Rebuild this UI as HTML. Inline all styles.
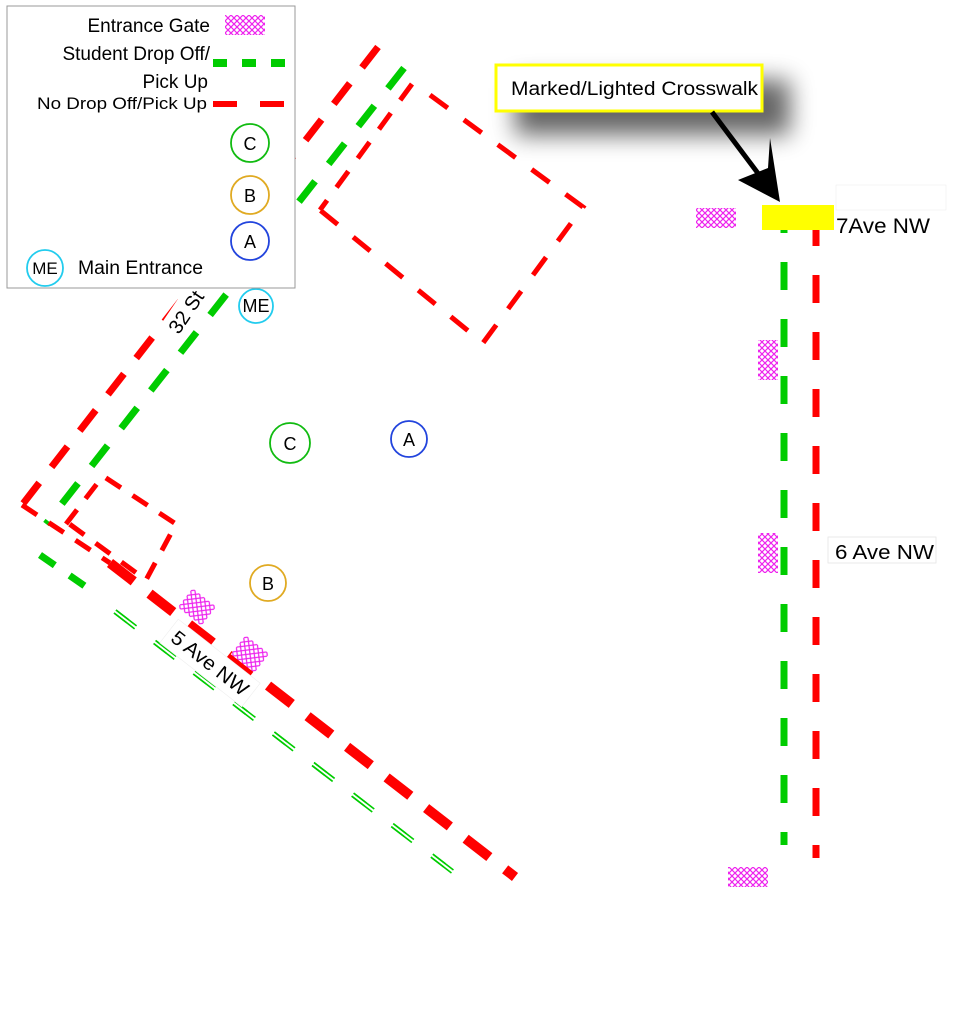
<!DOCTYPE html>
<html><head><meta charset="utf-8"><style>
html,body{margin:0;padding:0;background:#fff;}
svg{display:block;font-family:"Liberation Sans",sans-serif;}
</style></head><body>
<svg width="962" height="1024" viewBox="0 0 962 1024" xmlns="http://www.w3.org/2000/svg">
<defs>
<pattern id="hx" width="6" height="6" patternUnits="userSpaceOnUse">
<rect width="6" height="6" fill="#fff"/>
<path d="M0 0L6 6M6 0L0 6" stroke="#ee22ee" stroke-width="1.2"/>
</pattern>
<filter id="blur" x="-30%" y="-80%" width="160%" height="260%"><feGaussianBlur stdDeviation="12"/></filter>
</defs>
<rect width="962" height="1024" fill="#fff"/>

<line x1="378" y1="47" x2="22" y2="505" stroke="#f00" stroke-width="7" stroke-dasharray="26,20"/>
<line x1="404" y1="68" x2="46" y2="524" stroke="#0c0" stroke-width="7" stroke-dasharray="26,22"/>
<line x1="412" y1="84" x2="320" y2="210" stroke="#f00" stroke-width="5" stroke-dasharray="20,16"/>
<polyline points="430,95 583,207 483,343 320,210" fill="none" stroke="#f00" stroke-width="5" stroke-dasharray="22,20"/>
<polyline points="66,524 103,476 176,524 146,580 64,520" fill="none" stroke="#f00" stroke-width="5" stroke-dasharray="18,14"/>
<line x1="22" y1="505" x2="110" y2="563" stroke="#f00" stroke-width="5" stroke-dasharray="18,14"/>
<line x1="110" y1="563" x2="515" y2="877" stroke="#f00" stroke-width="10" stroke-dasharray="30,20"/>
<line x1="40" y1="555" x2="95" y2="593" stroke="#0c0" stroke-width="7" stroke-dasharray="18,18"/>
<g stroke="#0c0" stroke-width="1.6" stroke-dasharray="16,34" fill="none">
<line x1="114" y1="613" x2="458" y2="878"/>
<line x1="116" y1="610" x2="460" y2="875"/>
</g>
<g stroke="#0c0" stroke-width="1.6" stroke-dasharray="26,24" stroke-dashoffset="-50" fill="none">
<line x1="114" y1="613" x2="458" y2="878"/>
<line x1="116" y1="610" x2="460" y2="875"/>
</g>

<rect x="696" y="208" width="40" height="20" fill="url(#hx)"/>
<rect x="758" y="340" width="20" height="40" fill="url(#hx)"/>
<rect x="758" y="533" width="20" height="40" fill="url(#hx)"/>
<rect x="728" y="867" width="40" height="20" fill="url(#hx)"/>
<rect x="-15" y="-12" width="30" height="24" fill="url(#hx)" transform="translate(197,607) rotate(38)"/>
<rect x="-15" y="-12" width="30" height="24" fill="url(#hx)" transform="translate(250,654) rotate(38)"/>

<g transform="translate(186,312) rotate(-56)">
<rect x="-28" y="-14" width="56" height="26" fill="#fff"/>
<text x="0" y="7" font-size="20" text-anchor="middle">32 St</text>
</g>
<g transform="translate(210,663) rotate(38)">
<rect x="-52" y="-15" width="104" height="30" fill="#fff" stroke="#eee" stroke-width="0.6"/>
<text x="0" y="7" font-size="20" text-anchor="middle" textLength="92" lengthAdjust="spacingAndGlyphs">5 Ave NW</text>
</g>

<g fill="none" stroke-width="1.8">
<circle cx="256" cy="306" r="17" stroke="#22ccee"/>
<circle cx="290" cy="443" r="20" stroke="#11bb11"/>
<circle cx="409" cy="439" r="18" stroke="#2244dd"/>
<circle cx="268" cy="583" r="18" stroke="#e0aa22"/>
</g>
<g font-size="18" text-anchor="middle" fill="#000">
<text x="256" y="312">ME</text>
<text x="290" y="450">C</text>
<text x="409" y="446">A</text>
<text x="268" y="590">B</text>
</g>

<line x1="784" y1="205" x2="784" y2="845" stroke="#0c0" stroke-width="7" stroke-dasharray="28,29"/>
<line x1="816" y1="218" x2="816" y2="858" stroke="#f00" stroke-width="7" stroke-dasharray="28,29"/>
<rect x="762" y="205" width="72" height="25" fill="#ff0"/>
<rect x="836" y="185" width="110" height="25" fill="#fff" stroke="#eee" stroke-width="0.6"/>
<text x="836" y="233" font-size="21" textLength="94" lengthAdjust="spacingAndGlyphs">7Ave NW</text>
<rect x="828" y="537" width="108" height="26" fill="#fff" stroke="#e5e5e5" stroke-width="0.8"/>
<text x="835" y="559" font-size="20" textLength="99" lengthAdjust="spacingAndGlyphs">6 Ave NW</text>

<rect x="515" y="80" width="275" height="55" fill="#000" opacity="0.6" filter="url(#blur)"/>
<rect x="496" y="65" width="266" height="46" fill="#fff" stroke="#ff0" stroke-width="3"/>
<text x="511" y="95" font-size="19" textLength="247" lengthAdjust="spacingAndGlyphs">Marked/Lighted Crosswalk</text>
<line x1="712" y1="112" x2="766" y2="184" stroke="#000" stroke-width="5"/>
<polygon points="780,202 738,180 768,168 770,138" fill="#000"/>

<rect x="7" y="6" width="288" height="282" fill="#fff" stroke="#999" stroke-width="1"/>
<g font-size="19" fill="#000" text-anchor="end">
<text x="210" y="32">Entrance Gate</text>
<text x="210" y="60">Student Drop Off/</text>
<text x="208" y="88">Pick Up</text>
<text x="207" y="109" font-size="17" textLength="170" lengthAdjust="spacingAndGlyphs">No Drop Off/Pick Up</text>
</g>
<rect x="225" y="15" width="40" height="20" fill="url(#hx)"/>
<line x1="213" y1="63" x2="285" y2="63" stroke="#0c0" stroke-width="8" stroke-dasharray="14,15"/>
<line x1="213" y1="104" x2="285" y2="104" stroke="#f00" stroke-width="6" stroke-dasharray="24,23"/>
<g fill="none" stroke-width="1.8">
<circle cx="250" cy="143" r="19" stroke="#11bb11"/>
<circle cx="250" cy="195" r="19" stroke="#e0aa22"/>
<circle cx="250" cy="241" r="19" stroke="#2244dd"/>
<circle cx="45" cy="268" r="18" stroke="#22ccee"/>
</g>
<g font-size="18" text-anchor="middle">
<text x="250" y="150">C</text>
<text x="250" y="202">B</text>
<text x="250" y="248">A</text>
<text x="45" y="274" font-size="17">ME</text>
</g>
<text x="78" y="274" font-size="19" textLength="125" lengthAdjust="spacingAndGlyphs">Main Entrance</text>
</svg>
</body></html>
